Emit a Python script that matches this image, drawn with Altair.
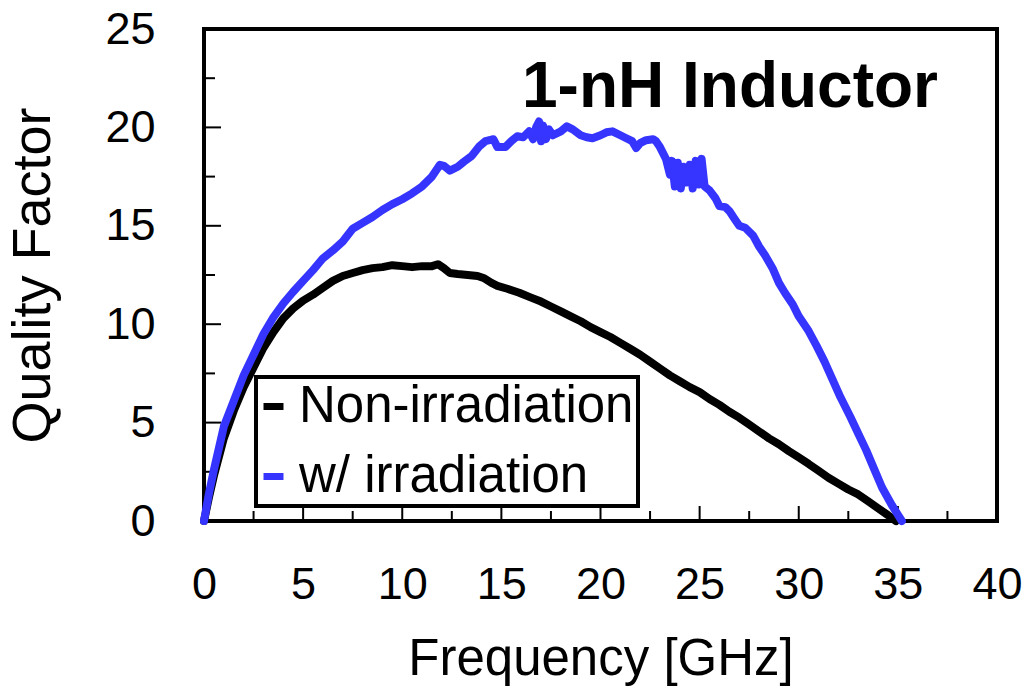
import altair as alt
import pandas as pd

# ---- data ----
freq_non = [0, 0.25, 0.5, 1.0, 1.5, 2.0, 2.5, 3.0, 3.5, 4.0, 4.5, 5.0, 5.5, 6.0, 6.5, 7.0, 7.5,
            8.0, 8.5, 9.0, 9.5, 10.0, 10.5, 11.0, 11.5, 11.8, 12.1, 12.4, 12.8, 13.3, 13.8, 14.1,
            14.5, 14.8, 15.3, 15.9, 16.5, 17.0, 17.5, 18.0, 18.5, 19.0, 19.5, 20.0, 20.5, 21.0,
            21.5, 22.0, 22.5, 23.0, 23.5, 24.0, 24.5, 25.0, 25.5, 26.0, 26.5, 27.0, 27.5, 28.0,
            28.5, 29.0, 29.5, 30.0, 30.5, 31.0, 31.5, 32.0, 32.5, 33.0, 33.5, 34.0, 34.5, 34.9]
q_non = [0, 1.2, 2.3, 4.2, 5.6, 6.8, 7.8, 8.8, 9.6, 10.3, 10.8, 11.2, 11.5, 11.85, 12.2, 12.45, 12.6,
         12.75, 12.85, 12.9, 13.0, 12.95, 12.9, 12.95, 12.95, 13.05, 12.85, 12.6, 12.55, 12.5, 12.45, 12.35,
         12.1, 11.95, 11.8, 11.6, 11.35, 11.15, 10.9, 10.65, 10.4, 10.15, 9.85, 9.6, 9.35, 9.05,
         8.75, 8.45, 8.1, 7.75, 7.4, 7.1, 6.8, 6.55, 6.2, 5.9, 5.55, 5.25, 4.9, 4.55,
         4.2, 3.9, 3.55, 3.23, 2.9, 2.55, 2.2, 1.9, 1.6, 1.35, 1.0, 0.65, 0.3, 0.0]

freq_irr = [0, 0.25, 0.5, 1.0, 1.5, 2.0, 2.5, 3.0, 3.5, 4.0, 4.5, 5.0, 5.5, 6.0, 6.5, 7.0, 7.5, 8.0,
            8.5, 9.0, 9.5, 10.0, 10.5, 11.0, 11.5, 11.9, 12.1, 12.4, 12.8, 13.1, 13.5, 13.9, 14.2,
            14.6, 14.8, 15.2, 15.5, 15.8, 16.1, 16.4, 16.6, 16.75, 16.9, 17.0, 17.1, 17.25, 17.4,
            17.6, 18.0, 18.3, 18.6, 19.0, 19.3, 19.6, 20.0, 20.3, 20.6, 21.0, 21.3, 21.6, 21.8,
            22.0, 22.3, 22.65, 22.8, 23.0, 23.3, 23.5, 23.6, 23.75, 23.9, 24.05, 24.2, 24.35, 24.5,
            24.65, 24.8, 24.95, 25.1, 25.25, 25.5, 25.8, 26.0, 26.3, 26.5, 26.8, 27.0, 27.3, 27.7,
            28.0, 28.3, 28.7, 29.0, 29.3, 29.7, 30.0, 30.5, 30.9, 31.3, 31.7, 32.1, 32.6, 33.0,
            33.4, 33.8, 34.2, 34.7, 35.2]
q_irr = [0, 1.4, 2.6, 4.8, 6.1, 7.4, 8.45, 9.5, 10.35, 11.05, 11.65, 12.2, 12.75, 13.35, 13.75, 14.2, 14.85, 15.15,
         15.45, 15.8, 16.1, 16.35, 16.65, 17.0, 17.5, 18.1, 18.05, 17.8, 18.0, 18.25, 18.55, 19.05, 19.3,
         19.4, 19.0, 19.0, 19.3, 19.55, 19.5, 19.8, 19.4, 20.0, 20.3, 19.3, 20.1, 19.4, 19.9,
         19.6, 19.8, 20.05, 19.9, 19.6, 19.5, 19.45, 19.6, 19.75, 19.8, 19.6, 19.45, 19.3, 18.95,
         19.2, 19.35, 19.4, 19.3, 19.0, 18.4, 17.6, 18.3, 17.0, 18.2, 16.9, 18.0, 17.2, 18.1,
         16.9, 18.3, 17.1, 18.4, 17.0, 16.8, 16.4, 16.0, 15.95, 15.75, 15.3, 15.0, 14.9, 14.5,
         13.95, 13.5, 12.8, 12.1, 11.6, 11.0, 10.4, 9.65, 8.9, 8.1, 7.2, 6.3, 5.3, 4.45,
         3.6, 2.65, 1.7, 0.8, 0.0]

series_names = ["Non-irradiation", "w/ irradiation"]
series_colors = ["#000000", "#3535ff"]

x_ticks_major = [5, 10, 15, 20, 25, 30, 35]
x_ticks_minor = [2.5, 7.5, 12.5, 17.5, 22.5, 27.5, 32.5, 37.5]
y_ticks_major = [5, 10, 15, 20]
y_ticks_minor = [2.5, 7.5, 12.5, 17.5, 22.5]
x_labels = [0, 5, 10, 15, 20, 25, 30, 35, 40]
y_labels = [0, 5, 10, 15, 20, 25]

FONT = "Liberation Sans"
W, H = 793, 492

rows = []
for i, (f, q) in enumerate(zip(freq_non, q_non)):
    rows.append({"freq": f, "q": q, "series": series_names[0], "order": i})
for i, (f, q) in enumerate(zip(freq_irr, q_irr)):
    rows.append({"freq": f, "q": q, "series": series_names[1], "order": i})
df = pd.DataFrame(rows)

xscale = alt.Scale(domain=[0, 40], nice=False, zero=False)
yscale = alt.Scale(domain=[0, 25], nice=False, zero=False)

lines = alt.Chart(df).mark_line(strokeWidth=8, strokeCap="round", strokeJoin="round").encode(
    x=alt.X("freq:Q", scale=xscale,
            axis=alt.Axis(values=x_labels, title="Frequency [GHz]", ticks=False, domain=False,
                          grid=False, labelFontSize=45, labelFont=FONT, labelColor="black",
                          labelPadding=41, titleFontSize=51, titleFont=FONT, titleFontWeight="normal",
                          titleColor="black", titlePadding=27, labelFlush=False)),
    y=alt.Y("q:Q", scale=yscale,
            axis=alt.Axis(values=y_labels, title="Quality Factor", ticks=False, domain=False,
                          grid=False, labelFontSize=45, labelFont=FONT, labelColor="black",
                          labelPadding=49, titleFontSize=54, titleFont=FONT, titleFontWeight="normal",
                          titleColor="black", titlePadding=44, labelFlush=False)),
    color=alt.Color("series:N",
                    scale=alt.Scale(domain=series_names, range=series_colors),
                    legend=alt.Legend(title=None, orient="none", legendX=52, legendY=348,
                                      labelFontSize=51, labelFont=FONT, labelColor="black",
                                      symbolType="stroke", symbolSize=400, symbolStrokeWidth=7,
                                      symbolOffset=-12, labelOffset=0, padding=4, rowPadding=18,
                                      strokeColor="black", fillColor="white",
                                      labelLimit=600)),
    order="order:Q",
)

def tick_layer(vals, length, axis):
    d = pd.DataFrame({"v": vals})
    if axis == "x":
        return alt.Chart(d).mark_rule(color="black", strokeWidth=2).encode(
            x=alt.X("v:Q", scale=xscale), y=alt.value(H), y2=alt.value(H - length))
    return alt.Chart(d).mark_rule(color="black", strokeWidth=2).encode(
        y=alt.Y("v:Q", scale=yscale), x=alt.value(0), x2=alt.value(length))

title_df = pd.DataFrame({"t": ["1-nH Inductor"]})
title = alt.Chart(title_df).mark_text(fontSize=64, fontWeight="bold", font=FONT, color="black",
                                      align="center", baseline="alphabetic").encode(
    text="t:N", x=alt.value(526), y=alt.value(78))

chart = alt.layer(
    tick_layer(x_ticks_major, 15, "x"), tick_layer(x_ticks_minor, 10, "x"),
    tick_layer(y_ticks_major, 17, "y"), tick_layer(y_ticks_minor, 11, "y"),
    lines, title,
).properties(
    width=W, height=H,
    padding={"left": 204, "top": 29, "right": 28, "bottom": 167},
    autosize=alt.AutoSizeParams(type="none"),
    background="white",
).configure_view(stroke="black", strokeWidth=4).configure_legend(
    strokeWidth=4, cornerRadius=0)

chart.save("out.html", embed_options={"renderer": "svg", "actions": False})
